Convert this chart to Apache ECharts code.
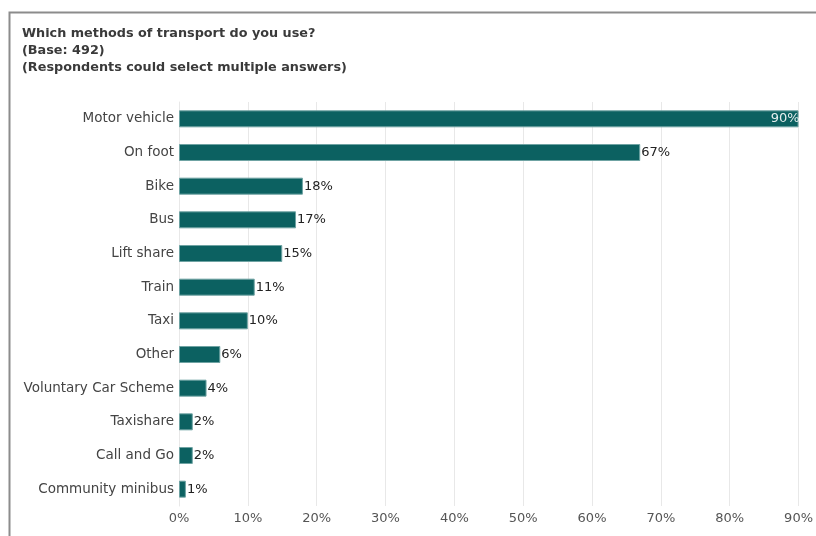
<!DOCTYPE html>
<html>
<head>
<meta charset="utf-8">
<script src="https://cdn.jsdelivr.net/npm/echarts@6/dist/echarts.min.js"></script>
<style>
  html, body { margin: 0; padding: 0; background: #fff; }
  #chart { width: 816px; height: 536px; }
</style>
</head>
<body>
<div id="chart"></div>
<script>
// Transport methods used, percentage of respondents (multiple answers allowed)
const categories = [
  'Motor vehicle', 'On foot', 'Bike', 'Bus', 'Lift share', 'Train',
  'Taxi', 'Other', 'Voluntary Car Scheme', 'Taxishare', 'Call and Go',
  'Community minibus'
];
const percentages = [90, 67, 18, 17, 15, 11, 10, 6, 4, 2, 2, 1];
const tickValues = [0, 10, 20, 30, 40, 50, 60, 70, 80, 90];

const titleLines = [
  'Which methods of transport do you use?',
  '(Base: 492)',
  '(Respondents could select multiple answers)'
];

const chart = echarts.init(document.getElementById('chart'), null, { renderer: 'canvas' });

const font = '"DejaVu Sans", Arial, sans-serif';

chart.setOption({
  animation: false,
  backgroundColor: '#ffffff',
  title: {
    text: titleLines.join('\n'),
    left: 22,
    top: 25,
    padding: 0,
    textStyle: {
      fontFamily: font,
      fontSize: 12.8,
      fontWeight: 'bold',
      color: '#3a3a3a',
      lineHeight: 17
    }
  },
  graphic: [{
    type: 'polyline',
    shape: { points: [[9.5, 540], [9.5, 12.5], [820, 12.5]] },
    style: { stroke: '#8c8c8c', lineWidth: 2, fill: null },
    silent: true
  }],
  grid: { left: 179, right: 13, top: 102, bottom: 30, containLabel: false },
  xAxis: {
    type: 'value',
    min: tickValues[0],
    max: tickValues[tickValues.length - 1],
    interval: 10,
    axisLine: { show: false },
    axisTick: { show: false },
    splitLine: { show: true, lineStyle: { color: '#e8e8e8', width: 1 } },
    axisLabel: {
      formatter: v => v + '%',
      fontFamily: font,
      fontSize: 13,
      color: '#555555',
      margin: 6
    }
  },
  yAxis: {
    type: 'category',
    data: categories,
    inverse: true,
    axisLine: { show: true, lineStyle: { color: '#e8e8e8' } },
    axisTick: { show: false },
    axisLabel: {
      fontFamily: font,
      fontSize: 13.5,
      color: '#444444',
      margin: 5
    }
  },
  series: [{
    type: 'bar',
    data: percentages.map((v, i) => i === 0
      ? { value: v, label: { position: 'insideRight', color: '#e6eeee', offset: [2, 0] } }
      : v),
    barWidth: 17,
    itemStyle: {
      color: '#0c6161',
      borderColor: '#6fa3a3',
      borderWidth: 1
    },
    label: {
      show: true,
      position: 'right',
      distance: 1,
      formatter: p => p.value + '%',
      fontFamily: font,
      fontSize: 13,
      color: '#222222'
    }
  }]
});
</script>
</body>
</html>
